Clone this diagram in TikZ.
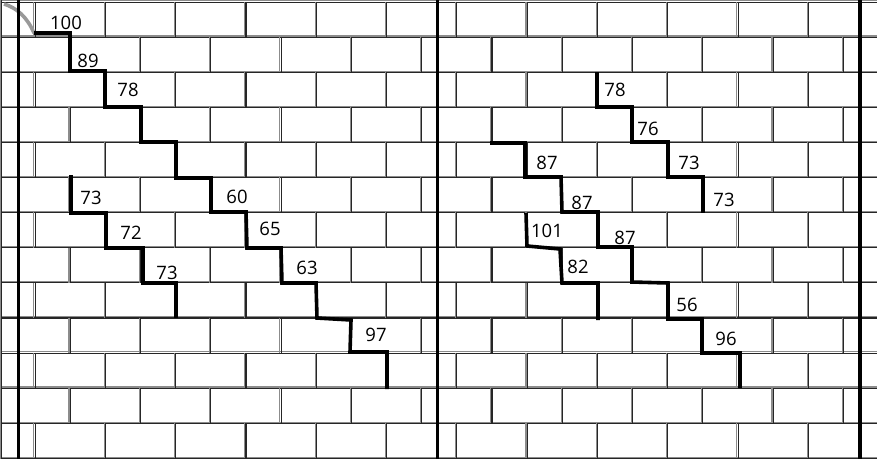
\documentclass[tikz,border=0pt]{standalone}
\usepackage{fontspec}
\setmainfont{Open Sans}
\begin{document}
\begin{tikzpicture}[x=1pt,y=-1pt,
  crack/.style={line width=3.6pt, line join=miter, black},
  lbl/.style={font=\fontsize{18.5}{20}\selectfont, inner sep=0pt, text=black},
  wallline/.style={line width=3.6pt, black},
  mortarlight/.style={line width=1.1pt, black!45},
  mortardark/.style={line width=1.1pt, black!85}]
\useasboundingbox (0,0) rectangle (877,459);
\fill[white] (0,0) rectangle (877,459);
% horizontal joints
\foreach \k in {0,...,13} {
  \pgfmathsetmacro\yy{1.8+35.1*\k}
  \draw[mortarlight] (0,\yy-0.9) -- (877,\yy-0.9);
  \draw[mortardark] (0,\yy+0.3) -- (877,\yy+0.3);
}
% vertical joints, even rows
\foreach \r in {0,2,...,12} {
  \foreach \m in {1,3,...,25} {
    \pgfmathsetmacro\xx{35.15*\m-0.5}
    \pgfmathsetmacro\ya{1.8+35.1*\r}
    \pgfmathsetmacro\yb{1.8+35.1*(\r+1)}
    \draw[mortarlight] (\xx-0.8,\ya) -- (\xx-0.8,\yb);
    \draw[mortardark] (\xx+0.4,\ya) -- (\xx+0.4,\yb);
  }
}
% vertical joints, odd rows
\foreach \r in {1,3,...,11} {
  \foreach \m in {2,4,...,24} {
    \pgfmathsetmacro\xx{35.15*\m-0.5}
    \pgfmathsetmacro\ya{1.8+35.1*\r}
    \pgfmathsetmacro\yb{1.8+35.1*(\r+1)}
    \draw[mortarlight] (\xx-0.8,\ya) -- (\xx-0.8,\yb);
    \draw[mortardark] (\xx+0.4,\ya) -- (\xx+0.4,\yb);
  }
}
% left border
\draw[mortarlight] (0.7,0) -- (0.7,459);
\draw[mortardark] (1.9,0) -- (1.9,459);
% faint start of the crack
\draw[black!40, line width=3.6pt] (4,4) .. controls (17,8) and (27,17) .. (34,33);
% thick vertical lines
\draw[wallline] (18.3,0) -- (18.3,459);
\draw[wallline] (437.5,0) -- (437.5,459);
\draw[wallline] (860,0) -- (860,459);
% cracks
\draw[crack] (34,33) -- (70,33) -- (70,71) -- (105,71) -- (105,107) -- (141,107) -- (141,142) -- (176,142) -- (176,178) -- (211,178) -- (211,212) -- (246,212) -- (247,248) -- (281,248) -- (282,283) -- (316,283) -- (317,318) -- (351,320) -- (350,352) -- (387,352) -- (387,389);
\draw[crack] (71,175) -- (71,213) -- (106,213) -- (106,248) -- (143,248) -- (143,283) -- (176,283) -- (176,318);
\draw[crack] (597,72) -- (597,107) -- (632,107) -- (632,142) -- (668,142) -- (668,177) -- (703,177) -- (703,213);
\draw[crack] (490,143) -- (525,143) -- (525,177) -- (561,177) -- (562,212) -- (598,212) -- (598,247) -- (632,247) -- (632,282) -- (668,283) -- (668,319) -- (702,319) -- (702,353) -- (740,353) -- (740,388);
\draw[crack] (526,213) -- (527,246) -- (560,249) -- (562,283) -- (598,283) -- (598,320);
% labels
\node[lbl] (a1) at (66,23) {100};
\node[lbl] (a2) at (88,61) {89};
\node[lbl] (a3) at (128,90) {78};
\node[lbl] (b1) at (91,198) {73};
\node[lbl] (b2) at (131,233) {72};
\node[lbl] (b3) at (167,273) {73};
\node[lbl] (a4) at (237,197) {60};
\node[lbl] (a5) at (270,229) {65};
\node[lbl] (a6) at (307,268) {63};
\node[lbl] (a7) at (376,335) {97};
\node[lbl] (c1) at (615,90) {78};
\node[lbl] (c2) at (648,129) {76};
\node[lbl] (c3) at (689,163) {73};
\node[lbl] (c4) at (724,200) {73};
\node[lbl] (d1) at (547,163) {87};
\node[lbl] (d2) at (582,203) {87};
\node[lbl] (d3) at (625,238) {87};
\node[lbl] (d4) at (687,305) {56};
\node[lbl] (d5) at (726,339) {96};
\node[lbl] (e1) at (547,231) {101};
\node[lbl] (e2) at (578,267) {82};
\end{tikzpicture}
\end{document}
